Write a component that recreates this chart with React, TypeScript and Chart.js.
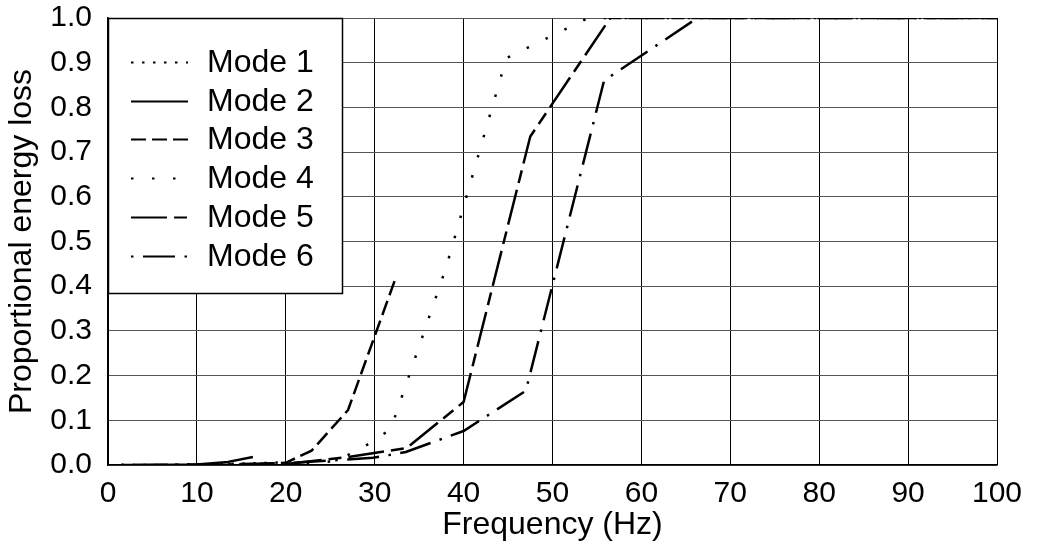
import React, { useEffect, useRef } from "react";
import { Chart, registerables } from "chart.js";

Chart.register(...registerables);

// ---- data (frequency in Hz, proportional energy loss) ----
const modeNames = ["Mode 1", "Mode 2", "Mode 3", "Mode 4", "Mode 5", "Mode 6"];

const mode1Freq = [1.5, 5, 10, 15, 20];
const mode1Loss = [0, 0, 0.001, 0.003, 0.006];

const mode2Freq = [1.5, 5, 10, 13.5, 16.3];
const mode2Loss = [0, 0, 0.001, 0.007, 0.018];

const mode3Freq = [10, 15, 20, 22.9, 27, 32.3];
const mode3Loss = [0, 0.001, 0.005, 0.032, 0.123, 0.415];

const mode4Freq = [20, 25, 28, 31.8, 38, 44.8, 54, 100];
const mode4Loss = [0, 0.008, 0.03, 0.08, 0.44, 0.91, 1.0, 1.0];

const mode5Freq = [20, 27, 33.6, 40, 47.5, 56.5, 100];
const mode5Loss = [0.002, 0.018, 0.038, 0.141, 0.735, 1.0, 1.0];

const mode6Freq = [1.5, 10, 20, 29.8, 33.5, 40, 47, 55.8, 66.3, 100];
const mode6Loss = [0, 0.001, 0.004, 0.016, 0.029, 0.076, 0.166, 0.86, 1.0, 1.0];

const xTicks = [0, 10, 20, 30, 40, 50, 60, 70, 80, 90, 100];
const yTicks = [0, 0.1, 0.2, 0.3, 0.4, 0.5, 0.6, 0.7, 0.8, 0.9, 1.0];

const dashes: number[][] = [
  [2.5, 8.5],
  [],
  [15, 6],
  [2.5, 18.5],
  [36, 7, 13, 7],
  [2.5, 9.5, 32, 9.5],
];

const FONT = "'Liberation Sans', Arial, Helvetica, sans-serif";

function pts(xs: number[], ys: number[]) {
  return xs.map((x, i) => ({ x, y: ys[i] }));
}

const legendBoxPlugin = {
  id: "legendBox",
  afterDraw(chart: any) {
    const ctx = chart.ctx;
    const area = chart.chartArea;
    const left = area.left;
    const top = area.top;
    const w = 234;
    const h = 275;
    ctx.save();
    ctx.fillStyle = "#ffffff";
    ctx.fillRect(left, top, w, h);
    ctx.strokeStyle = "#000";
    ctx.lineWidth = 1.5;
    ctx.setLineDash([]);
    ctx.strokeRect(left + 0.5, top + 0.5, w, h);
    const rowStart = top + 44;
    const step = 38.7;
    ctx.font = `32px ${FONT}`;
    ctx.textBaseline = "middle";
    ctx.textAlign = "left";
    modeNames.forEach((name, i) => {
      const y = Math.round(rowStart + i * step) + 0.5;
      ctx.beginPath();
      ctx.setLineDash(dashes[i]);
      ctx.lineWidth = 2;
      ctx.strokeStyle = "#000";
      ctx.moveTo(left + 23, y);
      ctx.lineTo(left + 80, y);
      ctx.stroke();
      ctx.setLineDash([]);
      ctx.fillStyle = "#000";
      ctx.fillText(name, left + 99, y + 1);
    });
    ctx.restore();
  },
};

export default function App() {
  const canvasRef = useRef<HTMLCanvasElement | null>(null);

  useEffect(() => {
    if (!canvasRef.current) return;
    const series = [
      pts(mode1Freq, mode1Loss),
      pts(mode2Freq, mode2Loss),
      pts(mode3Freq, mode3Loss),
      pts(mode4Freq, mode4Loss),
      pts(mode5Freq, mode5Loss),
      pts(mode6Freq, mode6Loss),
    ];
    const chart = new Chart(canvasRef.current, {
      type: "line",
      data: {
        datasets: series.map((data, i) => ({
          label: modeNames[i],
          data,
          borderColor: "#000",
          backgroundColor: "#000",
          borderWidth: 2.5,
          borderDash: dashes[i],
          borderCapStyle: "butt",
          pointRadius: 0,
          tension: 0,
          fill: false,
        })),
      },
      options: {
        animation: false,
        responsive: true,
        maintainAspectRatio: false,
        layout: { padding: { top: 18, right: 40, left: 0, bottom: 0 } },
        plugins: {
          legend: { display: false },
          tooltip: { enabled: false },
        },
        scales: {
          x: {
            type: "linear",
            min: 0,
            max: 100,
            afterBuildTicks: (scale: any) => {
              scale.ticks = xTicks.map((v) => ({ value: v }));
            },
            afterFit: (scale: any) => {
              scale.height = 85;
              scale.paddingLeft = 0;
              scale.paddingRight = 0;
            },
            ticks: {
              color: "#000",
              font: { family: FONT, size: 30 },
              padding: 11,
              maxRotation: 0,
              callback: (v: any) => String(v),
            },
            grid: { color: "#000", lineWidth: 1, drawTicks: false },
            border: { color: "#000", width: 1.5 },
            title: {
              display: true,
              text: "Frequency (Hz)",
              color: "#000",
              font: { family: FONT, size: 32 },
              padding: { top: 4, bottom: 6 },
            },
          },
          y: {
            type: "linear",
            min: 0,
            max: 1,
            afterBuildTicks: (scale: any) => {
              scale.ticks = yTicks.map((v) => ({ value: v }));
            },
            afterFit: (scale: any) => {
              scale.width = 108;
              scale.paddingTop = 0;
              scale.paddingBottom = 0;
            },
            ticks: {
              color: "#000",
              font: { family: FONT, size: 30 },
              padding: 16,
              callback: (v: any) => Number(v).toFixed(1),
            },
            grid: { color: "#555", lineWidth: 1, drawTicks: false },
            border: { color: "#000", width: 1.5 },
            title: {
              display: true,
              text: "Proportional energy loss",
              color: "#000",
              font: { family: FONT, size: 32 },
              padding: { top: 3, bottom: 4 },
            },
          },
        },
      },
      plugins: [legendBoxPlugin],
    } as any);
    return () => chart.destroy();
  }, []);

  return (
    <div
      style={{
        position: "absolute",
        left: 0,
        top: 0,
        width: 1037,
        height: 550,
        background: "#fff",
      }}
    >
      <canvas ref={canvasRef} />
    </div>
  );
}
